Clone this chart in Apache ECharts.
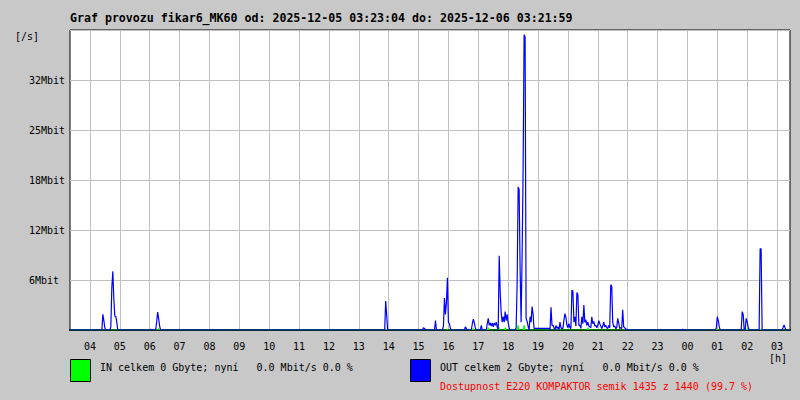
<!DOCTYPE html>
<html>
<head>
<meta charset="utf-8">
<script src="https://cdn.jsdelivr.net/npm/echarts@6/dist/echarts.min.js"></script>
<style>
html,body{margin:0;padding:0;background:#c8c8c8;}
#chart{width:800px;height:400px;}
</style>
</head>
<body>
<div id="chart"></div>
<script>
// Time axis: 2-minute samples starting 03:20 (slot index), 724 samples
const startMinute = 200;      // 03:20
const slotMinutes = 2;
const slotCount = 724;
const hourLabels = ['04','05','06','07','08','09','10','11','12','13','14','15','16','17','18','19','20','21','22','23','00','01','02','03'];
const yTickLabels = ['', '6Mbit', '12Mbit', '18Mbit', '25Mbit', '32Mbit', ''];
const yStep = 6.4;   // Mbit per grid line
const yMax = 38.4;

// OUT traffic [slot, Mbit/s]
const outMorning = [[33,2.0],[34,1.2],[35,0.3],[41,0.4],[42,5.4],[43,7.5],[44,4.0],[45,1.8],[46,1.7],[47,1.0],
  [81,0.1],[87,1.0],[88,2.3],[89,1.5],[90,0.5]];
const outAfternoon = [[317,3.7],[318,1.9],[355,0.3],[356,0.2],[367,1.2],
  [375,0.5],[376,4.1],[377,2.0],[378,3.5],[379,6.7],[380,1.0],[381,0.8],[382,0.2],
  [397,0.4],[398,0.2],[404,0.8],[405,1.4],[406,0.9],[407,0.3]];
const outPeak = [[413,0.6],[419,0.8],[420,1.5],[421,0.6],[422,0.9],[423,0.5],[424,0.9],[425,0.4],[426,0.9],[427,0.6],[428,1.0],[429,0.4],
  [431,9.5],[432,4.8],[433,2.2],[434,1.0],[435,1.7],[436,1.0],[437,2.35],[438,1.2],[439,2.0],[440,0.9],[441,0.3],
  [448,0.3],[449,6.0],[450,18.3],[451,18.0],[452,7.7],[453,1.0],[454,9.6],[455,20.5],[456,37.8],[457,37.5],[458,1.5],
  [459,1.1],[460,0.5],[462,1.7],[463,1.0],[464,3.0],[465,2.0],
  [466,0.2],[467,0.2],[468,0.2],[469,0.2],[470,0.2],[471,0.2],[472,0.2],[473,0.2],[474,0.2],[475,0.2],[476,0.2],[477,0.2],[478,0.2],[479,0.2],[480,0.2],[481,0.2]];
const outEvening = [[483,2.9],[484,0.6],[485,0.6],[486,0.3],[488,0.6],[489,0.2],[490,0.4],[492,1.0],[493,0.3],[494,0.2],[495,0.2],
  [496,1.3],[497,2.1],[498,1.6],[499,0.6],[500,0.3],[501,0.8],[502,0.3],[503,0.2],[504,5.1],[505,5.0],[506,1.0],[507,1.7],[508,0.5],
  [509,4.8],[510,4.5],[511,0.6],[512,0.6],[513,0.2],[514,1.7],[515,0.8],[516,3.2],[517,1.0],[518,1.3],[519,0.6],[520,1.0],[521,0.5],
  [522,0.4],[523,0.3],[524,1.7],[525,0.8],[526,1.1],[527,0.5],[528,0.6],[529,0.3],[530,0.6],[531,1.2],[532,0.8],[533,0.5],[534,0.2],
  [535,0.5],[536,1.0],[537,0.4],[538,0.6],[539,0.3],[540,0.2],[541,0.6],[542,0.3],[543,5.8],[544,5.6],[545,1.0],[546,0.4],[547,0.5],
  [548,0.2],[549,0.3],[550,1.5],[551,0.9],[552,0.2],[553,0.3],[554,0.2],[555,2.6],[556,0.4],[557,0.3],[558,0.1],[559,0.1]];
const outNight = [[615,0.1],[649,0.3],[650,1.7],[651,1.2],[652,0.4],[675,2.35],[676,2.0],[679,1.5],[680,1.0],[681,0.4],
  [693,10.4],[694,10.4],[716,0.3],[717,0.64],[718,0.3]];

// IN traffic [slot, Mbit/s]
const inPoints = [[89,0.2],[317,0.15],[379,0.1],[405,0.2],[420,0.3],[431,0.3],[437,0.3],[450,0.6],[456,0.6],[491,0.3],[520,0.3],[650,0.15],[680,0.2],[693,0.15]];

const legendIn = 'IN celkem 0 Gbyte; nyní   0.0 Mbit/s 0.0 %';
const legendOut = 'OUT celkem 2 Gbyte; nyní   0.0 Mbit/s 0.0 %';
const availability = 'Dostupnost E220 KOMPAKTOR semik 1435 z 1440 (99.7 %)';
const titleText = 'Graf provozu fikar6_MK60 od: 2025-12-05 03:23:04 do: 2025-12-06 03:21:59';

// build full series
const categories = [];
for (let i = 0; i < slotCount; i++) {
  const m = (startMinute + i * slotMinutes) % 1440;
  categories.push(String(Math.floor(m / 60)).padStart(2, '0') + ':' + String(m % 60).padStart(2, '0'));
}
function fill(groups) {
  const arr = new Array(slotCount).fill(0);
  groups.forEach(g => g.forEach(p => { arr[p[0]] = p[1]; }));
  return arr;
}
const outData = fill([outMorning, outAfternoon, outPeak, outEvening, outNight]);
const inData = fill([inPoints]);
const isHour = (idx) => ((startMinute + idx * slotMinutes) % 60) === 0;

const FONT = 'DejaVu Sans Mono';
const chart = echarts.init(document.getElementById('chart'), null, {renderer: 'svg'});
chart.setOption({
  backgroundColor: '#c8c8c8',
  animation: false,
  grid: {left: 70, top: 30, width: 720, height: 300, show: true, backgroundColor: '#ffffff', borderColor: '#000000', borderWidth: 1},
  xAxis: {
    type: 'category', data: categories, boundaryGap: false,
    axisLine: {show: true, lineStyle: {color: '#000', width: 2}},
    axisTick: {show: false},
    axisLabel: {
      interval: (idx) => isHour(idx),
      formatter: (v, idx) => hourLabels[Math.round((startMinute + idx * slotMinutes) / 60) - 4] || '',
      color: '#000', fontFamily: FONT, fontSize: 10, margin: 11
    },
    splitLine: {show: true, interval: (idx) => isHour(idx), lineStyle: {color: '#c0c0c0', width: 1}}
  },
  yAxis: {
    type: 'value', min: 0, max: yMax, interval: yStep,
    axisLine: {show: false}, axisTick: {show: false},
    axisLabel: {
      formatter: (v) => yTickLabels[Math.round(v / yStep)] || '',
      color: '#000', fontFamily: FONT, fontSize: 10, align: 'left', margin: 41, padding: [3, 0, 0, 0]
    },
    splitLine: {show: true, lineStyle: {color: '#c0c0c0', width: 1}}
  },
  series: [
    {type: 'line', name: 'IN', data: inData, symbol: 'none', z: 2,
     lineStyle: {color: '#00ff00', width: 1}, areaStyle: {color: '#00ff00', opacity: 1}},
    {type: 'line', name: 'OUT', data: outData, symbol: 'none', z: 3,
     lineStyle: {color: '#0000ff', width: 1.2}}
  ],
  graphic: [
    {type: 'text', left: 70, top: 12, style: {text: titleText, fill: '#000', font: 'bold 11.6px "' + FONT + '"'}},
    {type: 'text', left: 15, top: 31, style: {text: '[/s]', fill: '#000', font: '10px "' + FONT + '"'}},
    {type: 'text', left: 769, top: 353, style: {text: '[h]', fill: '#000', font: '10px "' + FONT + '"'}},
    {type: 'rect', left: 70, top: 359, shape: {width: 20, height: 22}, style: {fill: '#00ff00', stroke: '#000', lineWidth: 1}},
    {type: 'rect', left: 410, top: 359, shape: {width: 20, height: 22}, style: {fill: '#0000ff', stroke: '#000', lineWidth: 1}},
    {type: 'text', left: 100, top: 362, style: {text: legendIn, fill: '#000', font: '10px "' + FONT + '"'}},
    {type: 'text', left: 440, top: 362, style: {text: legendOut, fill: '#000', font: '10px "' + FONT + '"'}},
    {type: 'text', left: 440, top: 381, style: {text: availability, fill: '#ff0000', font: '10px "' + FONT + '"'}}
  ]
});
</script>
</body>
</html>
